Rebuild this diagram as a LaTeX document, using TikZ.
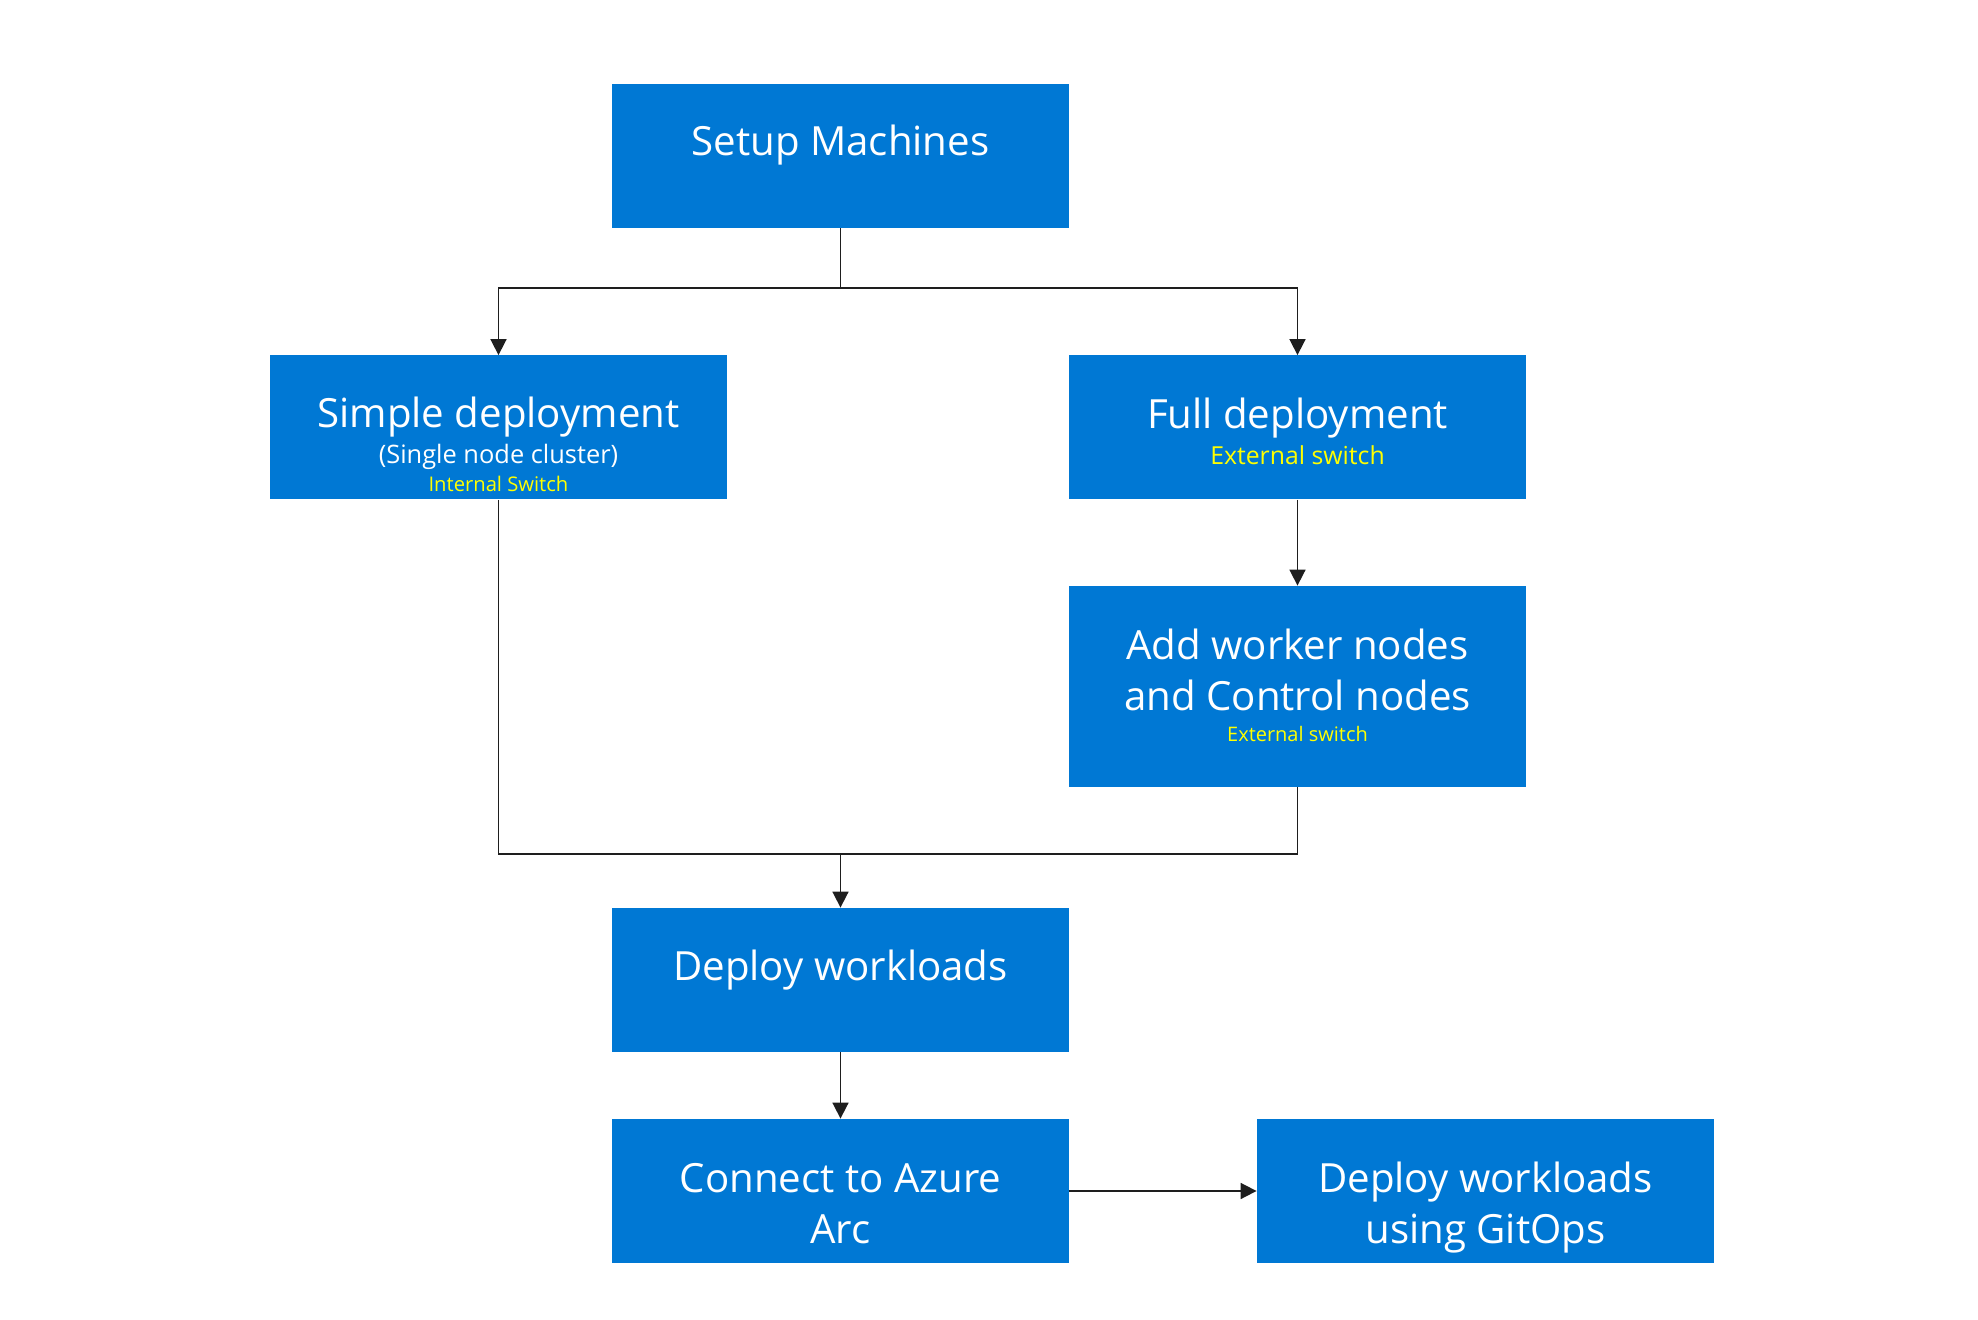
\documentclass[tikz,border=0pt]{standalone}
\usepackage{fontspec}
\setmainfont{Open Sans}
\usetikzlibrary{arrows.meta}
\definecolor{azblue}{HTML}{0078D4}
\definecolor{swyellow}{HTML}{FFFF00}
\definecolor{wiregray}{HTML}{1E1E1E}

\begin{document}
\begin{tikzpicture}
	[
	x=0.5pt, y=-0.5pt,
	box/.style={fill=azblue, minimum width=228.5pt, minimum height=72pt, inner sep=0pt},
	big/.style={text=white, font=\fontsize{20.1}{25.5}\selectfont, anchor=base, inner sep=0pt},
	sub/.style={text=white, font=\fontsize{12.7}{15}\selectfont, anchor=base, inner sep=0pt},
	sw/.style={text=swyellow, anchor=base, inner sep=0pt},
	wire/.style={draw=wiregray, line width=0.85pt},
	flow/.style={wire, -{Triangle[length=8pt,width=8pt]}}
	]
	\useasboundingbox (0,0) rectangle (1978,1320);
	% boxes
	\node[box] (setup) at (840.5,156) {};
	\node[box] (simple) at (498.5,427.5) {};
	\node[box] (full) at (1297.5,427.5) {};
	\node[box, minimum height=100.5pt] (add) at (1297.5,686.5) {};
	\node[box] (deploy) at (840.5,980) {};
	\node[box] (arc) at (840.5,1191) {};
	\node[box] (gitops) at (1485.5,1191) {};
	% texts
	\node[big] (setupt) at (840.5,156) {Setup Machines};
	\node[big] (simplet) at (498.5,428) {Simple deployment};
	\node[sub] (simples) at (498.5,464) {(Single node cluster)};
	\node[sw, font=\fontsize{10.1}{12}\selectfont] (simplesw) at (498.5,492) {Internal Switch};
	\node[big] (fullt) at (1297.5,429) {Full deployment};
	\node[sw, font=\fontsize{12.4}{15}\selectfont] (fullsw) at (1297.5,465) {External switch};
	\node[big] (addt) at (1297.5,660) {Add worker nodes};
	\node[big] (addu) at (1297.5,711) {and Control nodes};
	\node[sw, font=\fontsize{10}{12}\selectfont] (addsw) at (1297.5,742) {External switch};
	\node[big] (deployt) at (840.5,980) {Deploy workloads};
	\node[big] (arct) at (840.5,1192) {Connect to Azure};
	\node[big] (arcu) at (840.5,1243) {Arc};
	\node[big] (gitopst) at (1485.5,1192) {Deploy workloads};
	\node[big] (gitopsu) at (1485.5,1243) {using GitOps};
	% connectors
	\coordinate (split) at (840.5,288);
	\coordinate (merge) at (840.5,854);
	\draw[wire] (setup.south) -- (split);
	\draw[flow] (split) -| (simple.north);
	\draw[flow] (split) -| (full.north);
	\draw[flow] (full.south) -- (add.north);
	\draw[wire] (simple.south) |- (merge) -| (add.south);
	\draw[flow] (merge) -- (deploy.north);
	\draw[flow] (deploy.south) -- (arc.north);
	\draw[flow] (arc.east) -- (gitops.west);
\end{tikzpicture}
\end{document}
